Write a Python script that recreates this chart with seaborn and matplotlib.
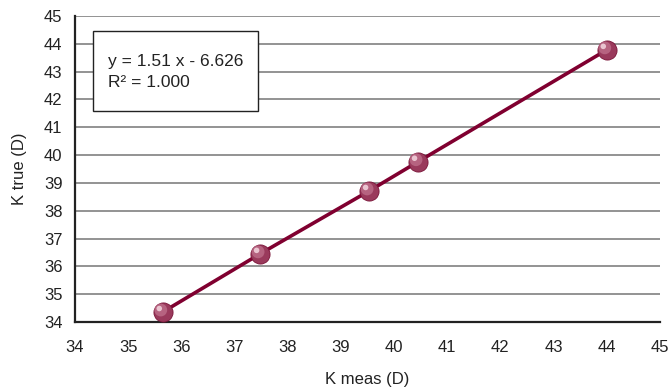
import numpy as np
import matplotlib.pyplot as plt
import matplotlib.transforms as mtransforms
from matplotlib.patches import Rectangle
import seaborn as sns

k_meas = [35.65, 37.48, 39.53, 40.45, 44.0]
k_true = [34.36, 36.45, 38.71, 39.76, 43.78]
x_ticks = list(range(34, 46))
y_ticks = list(range(34, 46))
eq_line1 = "y = 1.51 x - 6.626"
eq_line2 = "R\u00b2 = 1.000"

sns.set_style('white')
plt.rcParams['font.family'] = ['Liberation Sans', 'DejaVu Sans']

fig = plt.figure(figsize=(6.7, 3.88), dpi=100)
ax = fig.add_axes([0.112, 0.170, 0.873, 0.789])

sns.lineplot(x=k_meas, y=k_true, ax=ax, color='#800030', lw=2.6, zorder=3)
# sphere-looking markers: dark body plus a lighter highlight up-left
ax.scatter(k_meas, k_true, s=190, color='#9a3a5c', edgecolor='#7a1438', lw=0.6, zorder=4)
shift = mtransforms.ScaledTranslation(-2 / 100, 2 / 100, fig.dpi_scale_trans)
ax.scatter(k_meas, k_true, s=85, color='#c27590', edgecolor='none', alpha=0.7,
           zorder=5, transform=ax.transData + shift)
shift2 = mtransforms.ScaledTranslation(-3.5 / 100, 3.5 / 100, fig.dpi_scale_trans)
ax.scatter(k_meas, k_true, s=16, color='#f0d0da', edgecolor='none', alpha=0.9,
           zorder=6, transform=ax.transData + shift2)

ax.set_xlim(34, 45)
ax.set_ylim(34, 45)
ax.set_xticks(x_ticks)
ax.set_yticks(y_ticks)
ax.tick_params(axis='both', length=0, labelsize=12, colors='#222222')
ax.tick_params(axis='x', pad=13)
ax.tick_params(axis='y', pad=9)
ax.yaxis.grid(True, color='#8a8a8a', lw=1.3)
ax.xaxis.grid(False)
for side in ['top', 'right']:
    ax.spines[side].set_visible(False)
for side in ['left', 'bottom']:
    ax.spines[side].set_color('#222222')
    ax.spines[side].set_linewidth(1.6)

ax.set_xlabel('K meas (D)', fontsize=12, color='#222222', labelpad=12)
ax.set_ylabel('K true (D)', fontsize=12, color='#222222', labelpad=12)

ax.add_patch(Rectangle((0.031, 0.690), 0.282, 0.261, transform=ax.transAxes,
                       facecolor='white', edgecolor='#222222', lw=1.0, zorder=6))
ax.text(0.056, 0.852, eq_line1, transform=ax.transAxes, fontsize=12.5,
        color='#222222', va='center', ha='left', zorder=7)
ax.text(0.056, 0.784, eq_line2, transform=ax.transAxes, fontsize=12.5,
        color='#222222', va='center', ha='left', zorder=7)

fig.savefig('out.png', dpi=100)
